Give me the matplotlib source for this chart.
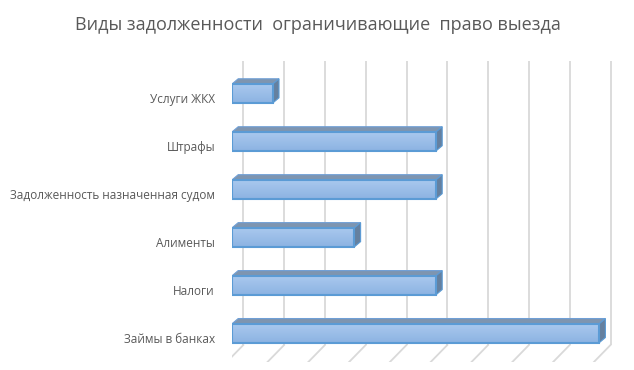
import numpy as np
import matplotlib
matplotlib.use("Agg")
import matplotlib.pyplot as plt
from matplotlib.patches import Polygon
from matplotlib.transforms import ScaledTranslation

# data (top to bottom as in the picture)
categories = ["Услуги ЖКХ", "Штрафы", "Задолженность назначенная судом",
              "Алименты", "Налоги", "Займы в банках"]
values = [1, 5, 5, 3, 5, 9]
grid_values = list(range(10))
title = "Виды задолженности  ограничивающие  право выезда"

plt.rcParams['font.family'] = ['Open Sans', 'DejaVu Sans']

W, H = 634, 370
fig = plt.figure(figsize=(W / 100, H / 100), dpi=100)
# axes in pixel terms: front zero at x=231.7, 40.8 px per unit; y 61..362
x0_px, x1_px = 231.7, 620.0
y_top, y_bot = 61.0, 362.0
ax = fig.add_axes([x0_px / W, 1 - y_bot / H, (x1_px - x0_px) / W, (y_bot - y_top) / H])
ppu_x = 40.8
ppu_y = 48.0
ax.set_xlim(0, (x1_px - x0_px) / ppu_x)
ypos = np.arange(len(categories))[::-1]  # top bar = highest
ax.set_ylim(-(y_bot - 333.5) / ppu_y, 5 + (93.8 - y_top) / ppu_y)
ax.axis('off')

# pixel -> data offsets
def dx(px):
    return px / ppu_x

def dy(px):
    return px / ppu_y

# slanted grid lines (back wall + floor)
grid_col = '#d9d9d9'
for g in grid_values:
    xb = g + dx(11.6)
    ax.plot([xb, xb], [ax.get_ylim()[1], -(345 - 333.5) / ppu_y],
            color=grid_col, lw=1.3, zorder=1, solid_capstyle='butt')
    ax.plot([xb, g - dx(5)], [-(345 - 333.5) / ppu_y, ax.get_ylim()[0]],
            color=grid_col, lw=1.3, zorder=1)

# bars with fake depth
h = 19 / ppu_y
ddx, ddy = dx(6.5), dy(5.5)
grad = np.linspace(0, 1, 64).reshape(-1, 1)
cmap = matplotlib.colors.LinearSegmentedColormap.from_list('b', ['#a9c8ee', '#8cb3e2'])
for y, v in zip(ypos, values):
    bottom, top = y - h / 2, y + h / 2
    # top face
    ax.add_patch(Polygon([(0, top), (v, top), (v + ddx, top + ddy), (ddx, top + ddy)],
                         closed=True, facecolor='#7e95b0', edgecolor='#6f9fd6', lw=0.8, zorder=3))
    # side face
    ax.add_patch(Polygon([(v, bottom), (v, top), (v + ddx, top + ddy), (v + ddx, bottom + ddy)],
                         closed=True, facecolor='#65809f', edgecolor='#5b9bd5', lw=0.8, zorder=3))
    # front face with gradient
    ax.imshow(grad, extent=[0, v, bottom, top], origin='upper', cmap=cmap,
              aspect='auto', zorder=4, interpolation='bilinear')
    ax.barh(y, v, height=h, left=0, color='none', edgecolor='#5b9bd5', lw=1.5, zorder=5)

ax.set_xlim(0, (x1_px - x0_px) / ppu_x)
ax.set_ylim(-(y_bot - 333.5) / ppu_y, 5 + (93.8 - y_top) / ppu_y)

# category labels
lab_off = ScaledTranslation(-16.7 / 100, -5.5 / 100, fig.dpi_scale_trans)
for y, c in zip(ypos, categories):
    ax.text(0, y, c, ha='right', va='center', fontsize=8.5, color='#595959',
            transform=ax.transData + lab_off)

fig.text(318 / W, 1 - 25 / H, title, ha='center', va='center', fontsize=13, color='#595959')

fig.savefig('out.png', dpi=100)
